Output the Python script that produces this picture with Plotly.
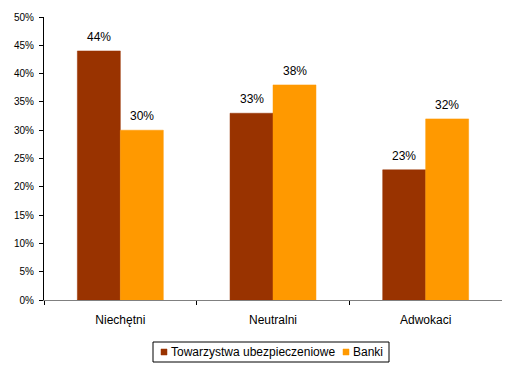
import plotly.graph_objects as go

categories = ["Niechętni", "Neutralni", "Adwokaci"]
series_names = ["Towarzystwa ubezpieczeniowe", "Banki"]
towarzystwa = [0.44, 0.33, 0.23]
banki = [0.30, 0.38, 0.32]
tick_vals = [0, 0.05, 0.10, 0.15, 0.20, 0.25, 0.30, 0.35, 0.40, 0.45, 0.50]
tick_text = ["0%", "5%", "10%", "15%", "20%", "25%", "30%", "35%", "40%", "45%", "50%"]
colors = ["#993300", "#FF9900"]

# page is 510x374; the html body has an 8px margin, so the figure starts at (8, 8)
OFF = 8
PAGE_W, PAGE_H = 510, 374
W, H = PAGE_W - OFF, PAGE_H - OFF
# plot area in page pixels: x 44..502, y 17..300
PL, PR, PT, PB = 44, 502, 17, 300
ML, MT = PL - OFF, PT - OFF
MR, MB = W - (PR - OFF), H - (PB - OFF)
PW, PH = PR - PL, PB - PT

def px(x):
    return (x - PL) / PW

def py(y):
    return (PB - y) / PH

fam = "Liberation Sans, Arial, sans-serif"
font12 = dict(family=fam, size=12, color="black")
font10 = dict(family=fam, size=10, color="black")

fig = go.Figure()
for name, vals, col in zip(series_names, [towarzystwa, banki], colors):
    fig.add_trace(go.Bar(name=name, x=categories, y=vals,
                         marker=dict(color=col, line=dict(color=col, width=0.5)),
                         showlegend=False))

annotations = []
bar_px = 43
for i, vals in enumerate([towarzystwa, banki]):
    shift = (-0.5 + i) * bar_px
    for c, v in zip(categories, vals):
        annotations.append(dict(x=c, y=v, xref="x", yref="y", text=f"{v*100:.0f}%",
                                showarrow=False, yanchor="bottom", yshift=5, xshift=shift,
                                font=font12))

# custom legend (box, swatches, labels)
shapes = [dict(type="rect", xref="paper", yref="paper",
               x0=px(153), x1=px(389), y0=py(342), y1=py(362),
               line=dict(color="black", width=1), fillcolor="white")]
legend_items = [(161, 169), (343, 351)]
for (sx, tx), name, col in zip(legend_items, series_names, colors):
    shapes.append(dict(type="rect", xref="paper", yref="paper",
                       x0=px(sx), x1=px(sx + 6), y0=py(349), y1=py(355),
                       line=dict(color=col, width=0.5), fillcolor=col))
    annotations.append(dict(x=px(tx), y=py(352), xref="paper", yref="paper", text=name,
                            showarrow=False, xanchor="left", yanchor="middle", font=font12))

fig.update_layout(
    width=W, height=H,
    margin=dict(l=ML, r=MR, t=MT, b=MB, pad=0),
    paper_bgcolor="white", plot_bgcolor="white",
    font=font12,
    barmode="group", bargap=0.437, bargroupgap=0,
    showlegend=False,
    shapes=shapes,
    annotations=annotations,
    xaxis=dict(showline=True, linecolor="#808080", linewidth=1, ticks="outside",
               tickson="boundaries", ticklen=4, tickcolor="black", showgrid=False,
               tickfont=font12, automargin=False, ticklabelstandoff=9),
    yaxis=dict(range=[0, 0.5], tickvals=tick_vals, ticktext=tick_text, showline=True,
               linecolor="black", linewidth=1, ticks="outside", ticklen=4,
               tickcolor="black", showgrid=False, zeroline=False, tickfont=font10,
               automargin=False, ticklabelstandoff=3),
)

fig.write_html("out.html")
